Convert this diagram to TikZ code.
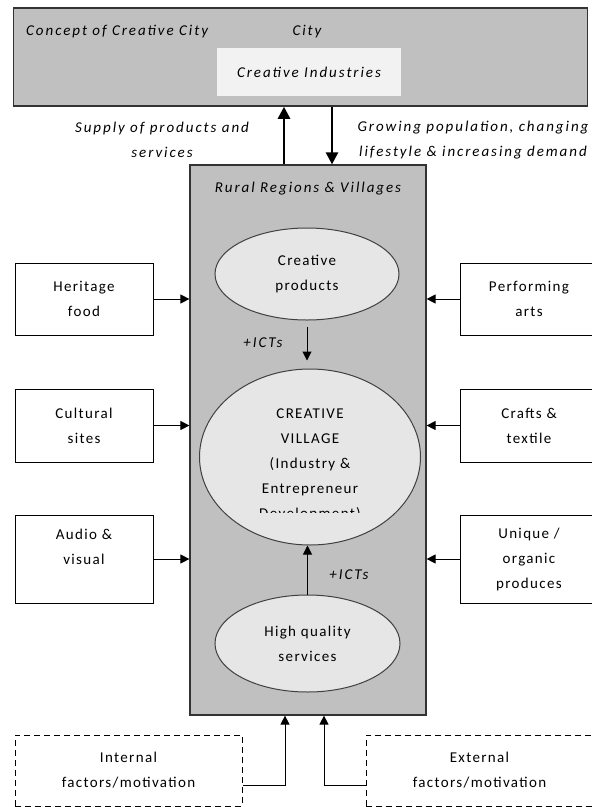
\documentclass[tikz,border=0pt]{standalone}
\usepackage{fontspec}
\setmainfont{Carlito}[LetterSpace=9, ItalicFeatures={LetterSpace=13}]
\usetikzlibrary{arrows.meta,positioning,shapes.geometric}
\definecolor{boxgrey}{HTML}{C0C0C0}
\definecolor{ovalgrey}{HTML}{E6E6E6}
\definecolor{panegrey}{HTML}{F2F2F2}
\newcommand{\figfont}{\fontsize{15}{25}\selectfont}
\tikzset{
  regionbox/.style={draw=black!80, fill=boxgrey, line width=1.5pt, inner sep=0},
  sidebox/.style={draw, line width=1pt, fill=white, minimum width=138, align=center, inner sep=0},
  factorbox/.style={draw, dash pattern=on 6pt off 4pt, line width=1pt, minimum width=227, minimum height=71, align=center, inner sep=0},
  oval/.style={ellipse, draw=black!75, line width=1pt, fill=ovalgrey, inner sep=0, align=center},
  bigarrow/.style={line width=2.5pt, -{Triangle[length=12pt,width=12pt]}},
  smallarrow/.style={line width=1pt, -{Triangle[length=9pt,width=9pt]}},
  tag/.style={font=\figfont\itshape, inner sep=0},
}

\begin{document}
\begin{tikzpicture}[x=1pt, y=-1pt, font=\figfont]
\useasboundingbox (0,0) rectangle (592,807);

% city
\node[regionbox, minimum width=574, minimum height=98] (city) at (300.5,57) {};
\node[tag, anchor=west] (concept) at (26,32) {Concept of Creative City};
\node[tag] (citylabel) at (307,32) {City};
\node[tag, fill=panegrey, minimum width=184, minimum height=48] (industries) at (309,72) {Creative Industries};

\node[tag, align=center] (supply) at (162,140) {Supply of products and\\services};
\node[tag, align=center] (demand) at (473,140) {Growing population, changing\\lifestyle \& increasing demand};

% rural regions
\node[regionbox, line width=1.2pt, minimum width=236, minimum height=550] (rural) at (308,440) {};
\node[tag] (ruraltitle) at (308,189) {Rural Regions \& Villages};

\node[oval, minimum width=184, minimum height=92] (products) at (307,274) {Creative\\products};
\node[oval, minimum width=221, minimum height=176] (village) at (310,457) {};
\begin{scope}
\clip (190,370) rectangle (430,512);
\node[align=center, inner sep=0] (villagetext) at (310,465) {CREATIVE\\VILLAGE\\(Industry \&\\Entrepreneur\\Development)};
\end{scope}
\node[oval, minimum width=185, minimum height=97] (services) at (307.5,643.5) {High quality\\services};

% side boxes
\node[sidebox, minimum height=72] (heritage) at (84,299) {Heritage\\food};
\node[sidebox, minimum height=73] (cultural) at (84,425.5) {Cultural\\sites};
\node[sidebox, minimum height=88] (audio) at (84,559) {Audio \&\\visual\\\mbox{}};
\node[sidebox, minimum height=72] (performing) at (529,299) {Performing\\arts};
\node[sidebox, minimum height=73] (crafts) at (529,425.5) {Crafts \&\\textile};
\node[sidebox, minimum height=88] (unique) at (529,559) {Unique /\\organic\\produces};

\node[factorbox] (internal) at (128.5,770.5) {Internal\\factors/motivation};
\node[factorbox] (external) at (479.5,770.5) {External\\factors/motivation};

% connectors
\coordinate (supplyx) at (284,0);
\coordinate (demandx) at (332,0);
\draw[bigarrow] (supplyx |- rural.north) -- (supplyx |- city.south);
\draw[bigarrow] (demandx |- city.south) -- (demandx |- rural.north);

\foreach \src in {heritage,cultural,audio}
  \draw[smallarrow] (\src.east) -- (\src.east -| rural.west);
\foreach \src in {performing,crafts,unique}
  \draw[smallarrow] (\src.west) -- (\src.west -| rural.east);

\draw[smallarrow, shorten <=6pt, shorten >=8pt] (products.south) -- (products.south |- village.north);
\node[tag] (ictdown) at (263,343) {+ICTs};
\draw[smallarrow] (services.north) -- (services.north |- village.south);
\node[tag] (ictup) at (349,575) {+ICTs};

\coordinate (innerx) at (285,0);
\coordinate (outerx) at (324,0);
\draw[smallarrow] ([yshift=-14.5pt]internal.east) -| (innerx |- rural.south);
\draw[smallarrow] ([yshift=-14.5pt]external.west) -| (outerx |- rural.south);
\end{tikzpicture}
\end{document}
